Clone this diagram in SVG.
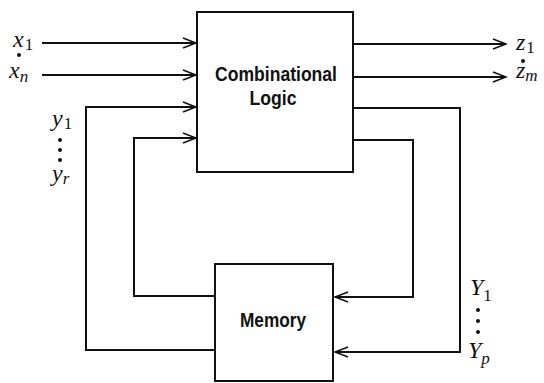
<svg xmlns="http://www.w3.org/2000/svg" width="544" height="383" viewBox="0 0 544 383">
  <style>
    .box { fill: #fff; stroke: #111; stroke-width: 2; }
    .wire { fill: none; stroke: #111; stroke-width: 2; }
    .block { font-family: "Liberation Sans", Arial, sans-serif; font-size: 20px; font-weight: bold; fill: #111; text-anchor: middle; }
    .var { font-family: "Liberation Serif", "Times New Roman", serif; font-style: italic; font-size: 24px; fill: #111; }
    .sub { font-style: normal; font-size: 17px; }
    .subi { font-size: 17px; }
    .dot { fill: #111; }
  </style>
  <defs>
    <marker id="arrow" viewBox="-14 -6 16 12" refX="0" refY="0" markerWidth="16" markerHeight="12" markerUnits="userSpaceOnUse" orient="auto">
      <path d="M -13 -5 L 0 0 L -13 5" fill="none" stroke="#111" stroke-width="1.6"/>
    </marker>
  </defs>

  <!-- signal wires -->
  <g id="connectors">
    <path class="wire" d="M 42 43 H 196" marker-end="url(#arrow)"/>
    <path class="wire" d="M 42 75 H 196" marker-end="url(#arrow)"/>
    <path class="wire" d="M 215 350 H 86 V 107 H 196" marker-end="url(#arrow)"/>
    <path class="wire" d="M 215 296 H 134 V 138 H 196" marker-end="url(#arrow)"/>
    <path class="wire" d="M 353 44 H 506" marker-end="url(#arrow)"/>
    <path class="wire" d="M 353 77 H 506" marker-end="url(#arrow)"/>
    <path class="wire" d="M 353 108 H 460 V 352 H 335" marker-end="url(#arrow)"/>
    <path class="wire" d="M 353 140 H 413 V 297 H 335" marker-end="url(#arrow)"/>
  </g>

  <g id="combinational-logic">
    <rect class="box" x="197" y="12" width="156" height="160"/>
    <text class="block" x="276" y="81" textLength="122" lengthAdjust="spacingAndGlyphs">Combinational</text>
    <text class="block" x="273" y="105" textLength="47" lengthAdjust="spacingAndGlyphs">Logic</text>
  </g>

  <g id="memory">
    <rect class="box" x="215" y="264" width="118" height="117"/>
    <text class="block" x="273" y="327" textLength="66" lengthAdjust="spacingAndGlyphs">Memory</text>
  </g>

  <!-- primary inputs -->
  <g id="inputs-x">
    <text class="var" x="13" y="47">x<tspan class="sub" dx="1" dy="3">1</tspan></text>
    <circle class="dot" cx="19" cy="55" r="2"/>
    <text class="var" x="9" y="78">x<tspan class="subi" dy="4">n</tspan></text>
  </g>

  <!-- present-state inputs -->
  <g id="inputs-y">
    <text class="var" x="52" y="126">y<tspan class="sub" dx="1" dy="3">1</tspan></text>
    <circle class="dot" cx="60" cy="140" r="2"/>
    <circle class="dot" cx="60" cy="150" r="2"/>
    <circle class="dot" cx="60" cy="160" r="2"/>
    <text class="var" x="52" y="181">y<tspan class="subi" dy="3">r</tspan></text>
  </g>

  <!-- outputs -->
  <g id="outputs-z">
    <text class="var" x="516" y="50">z<tspan class="sub" dx="1" dy="3">1</tspan></text>
    <circle class="dot" cx="523" cy="61" r="2"/>
    <text class="var" x="516" y="78">z<tspan class="subi" dy="3">m</tspan></text>
  </g>

  <!-- next-state outputs -->
  <g id="outputs-Y">
    <text class="var" x="470" y="295">Y<tspan class="sub" dy="6">1</tspan></text>
    <circle class="dot" cx="478" cy="310" r="2"/>
    <circle class="dot" cx="478" cy="321" r="2"/>
    <circle class="dot" cx="478" cy="332" r="2"/>
    <text class="var" x="468" y="358">Y<tspan class="subi" dy="6">p</tspan></text>
  </g>
</svg>
